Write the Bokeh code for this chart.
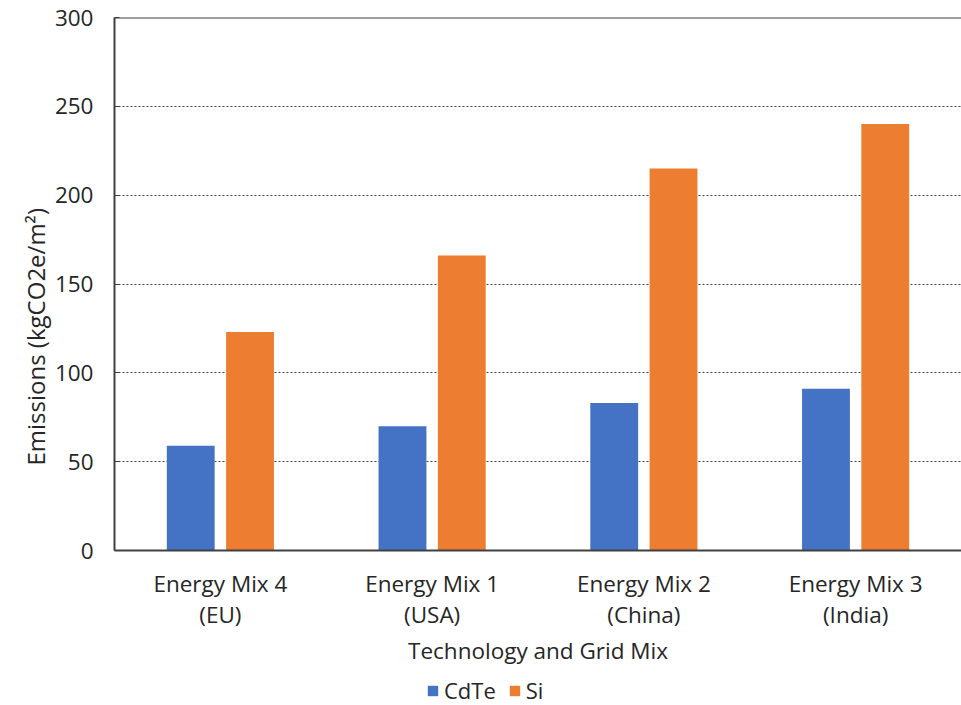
from bokeh.plotting import figure
from bokeh.layouts import column
from bokeh.models import (ColumnDataSource, FixedTicker, Span, Legend, LegendItem,
                          Range1d, Title)
from bokeh.transform import dodge
from bokeh.embed import file_html
from bokeh.resources import INLINE

categories = ["Energy Mix 4\n(EU)", "Energy Mix 1\n(USA)", "Energy Mix 2\n(China)", "Energy Mix 3\n(India)"]
cdte = [59, 70, 83, 91]
si = [123, 166, 215, 240]
series_names = ["CdTe", "Si"]
series_colors = ["#4472C4", "#ED7D31"]
y_ticks = [0, 50, 100, 150, 200, 250, 300]

FONT = "Open Sans"
TXT = "#262626"

xpos = list(range(len(categories)))
src = ColumnDataSource(dict(x=xpos, cdte=cdte, si=si))

p = figure(frame_width=847, frame_height=533, output_backend="svg", toolbar_location=None,
           x_range=Range1d(-0.5, len(categories) - 0.5), y_range=Range1d(0, 300),
           min_border_left=114, min_border_right=0, min_border_top=17,
           min_border_bottom=125)
p.outline_line_color = None
p.background_fill_color = "white"

r1 = p.vbar(x=dodge("x", -0.14), top="cdte", width=0.226, source=src,
            fill_color=series_colors[0], line_color=None)
r2 = p.vbar(x=dodge("x", 0.14), top="si", width=0.226, source=src,
            fill_color=series_colors[1], line_color=None)

p.xgrid.visible = False
p.ygrid.ticker = FixedTicker(ticks=[t for t in y_ticks if 0 < t < 300])
p.ygrid.grid_line_color = "#404040"
p.ygrid.grid_line_dash = "2 2"
p.ygrid.grid_line_width = 1

p.add_layout(Span(location=300, dimension="width", line_color="#404040", line_width=2))

p.yaxis.ticker = FixedTicker(ticks=y_ticks)
p.xaxis.ticker = FixedTicker(ticks=xpos)
p.xaxis.major_label_overrides = {i: c for i, c in enumerate(categories)}

for ax in (p.xaxis[0], p.yaxis[0]):
    ax.axis_line_color = "#404040"
    ax.axis_line_width = 2
    ax.major_tick_line_color = None
    ax.minor_tick_line_color = None
    ax.major_label_text_font = FONT
    ax.major_label_text_font_size = "22.5px"
    ax.major_label_text_color = TXT
    ax.axis_label_text_font = FONT
    ax.axis_label_text_font_size = "22.5px"
    ax.axis_label_text_color = TXT
    ax.axis_label_text_font_style = "normal"

p.xaxis.major_label_text_line_height = 1.0
p.yaxis.major_tick_line_color = "#404040"
p.yaxis.major_tick_in = 5
p.yaxis.major_tick_out = 0
p.yaxis.major_label_standoff = 21
p.xaxis.major_label_standoff = 11
p.xaxis.axis_label = "Technology and Grid Mix"
p.xaxis.axis_label_standoff = 2

ytitle = Title(text="Emissions (kgCO2e/m²)", align="left", offset=85,
               text_font=FONT, text_font_size="24px", text_color=TXT,
               text_font_style="normal", standoff=0)
p.add_layout(ytitle, "left")

# legend strip below the chart
lg = figure(width=961, height=30, output_backend="svg", toolbar_location=None,
            x_range=Range1d(0, 1), y_range=Range1d(0, 1),
            min_border_left=0, min_border_right=0, min_border_top=0,
            min_border_bottom=0)
lg.axis.visible = False
lg.grid.visible = False
lg.outline_line_color = None
dummies = [lg.vbar(x=[5], top=[0], width=0.1, fill_color=c, line_color=None)
           for c in series_colors]
legend = Legend(items=[LegendItem(label=n, renderers=[r]) for n, r in zip(series_names, dummies)],
                orientation="horizontal", location=(312, 0),
                label_text_font=FONT, label_text_font_size="22px",
                label_text_color=TXT, glyph_width=13, glyph_height=13,
                spacing=12, border_line_color=None, margin=0, padding=0,
                label_standoff=5, background_fill_alpha=0)
lg.add_layout(legend)

layout = column(p, lg, spacing=0)
open("out.html", "w").write(file_html(layout, INLINE))
